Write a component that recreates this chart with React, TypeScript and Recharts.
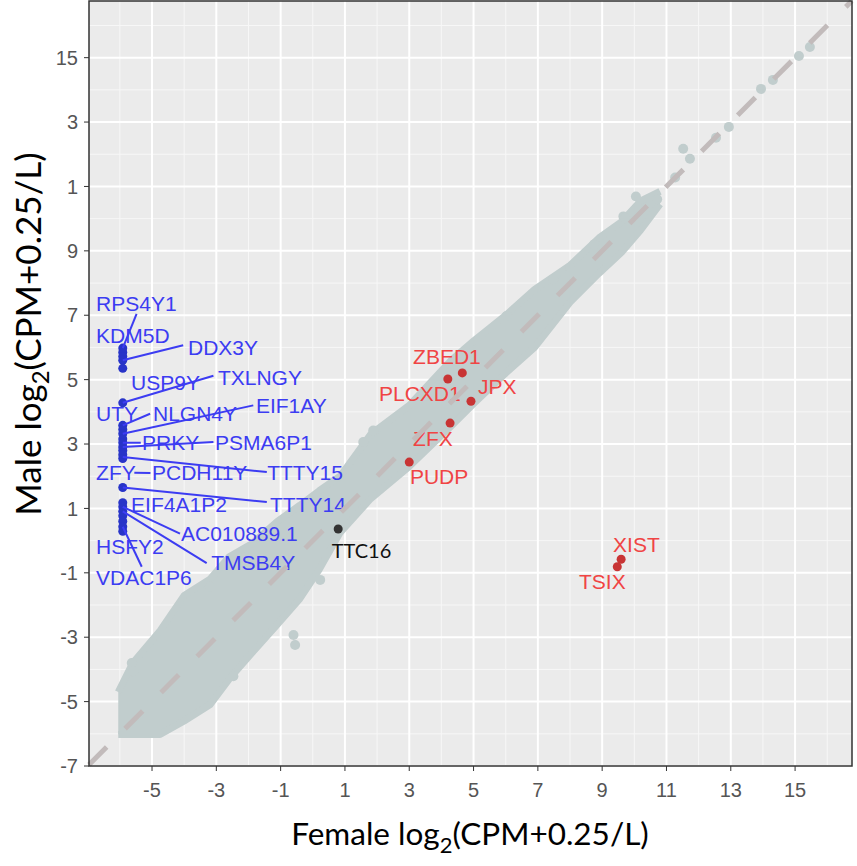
import {
  ComposedChart,
  Area,
  Scatter,
  XAxis,
  YAxis,
  CartesianGrid,
  ReferenceLine,
  ReferenceArea,
} from 'recharts';

const X_DOMAIN = [-6.96, 16.77];
const Y_DOMAIN = [-7, 16.76];

const xTicks = [-5, -3, -1, 1, 3, 5, 7, 9, 11, 13, 15];
const yTicks = [-7, -5, -3, -1, 1, 3, 5, 7, 9, 11, 13, 15];
// top two y labels are cut off on the left in the original figure
const yTickText: Record<number, string> = {13: '3', 11: '1'};
const minorX = [-6, -4, -2, 0, 2, 4, 6, 8, 10, 12, 14, 16];
const minorY = [-6, -4, -2, 0, 2, 4, 6, 8, 10, 12, 14, 16];

// outline of the dense grey cloud of genes
const bandX = [-6.05, -5.6, -4.75, -4.0, -3.2, -2.6, -1.9, -1.1, -0.4, 0.2, 0.85, 1.8, 3.0, 4.3, 5.0, 6.0, 6.9, 8.0, 8.9, 9.6, 10.2, 10.8];
const bandLow = [-6.02, -6.02, -6.02, -5.6, -5.1, -4.3, -3.5, -2.6, -1.8, -0.9, 0.25, 1.3, 2.3, 3.55, 4.25, 5.2, 6.0, 7.4, 8.3, 8.95, 9.65, 10.45];
const bandHigh = [-4.7, -3.8, -2.8, -1.7, -1.2, -0.5, -0.1, 0.6, 1.1, 1.55, 2.0, 3.3, 4.2, 5.6, 6.2, 7.0, 7.8, 8.55, 9.4, 9.9, 10.55, 10.85];

// loose grey genes outside the dense part
const looseX = [-5.63, -5.58, -3.2, -2.47, -0.6, -0.55, 0.23, 1.88, 1.57, 6.03, 7.48, 8.0, 8.75, 9.66, 9.71, 10.05, 10.71, 11.27, 11.52, 11.73, 12.54, 12.94, 13.94, 14.31, 15.12, 15.46];
const looseY = [-3.8, -4.06, -1.42, -4.21, -2.93, -3.24, -1.22, 3.42, 3.06, 6.98, 8.12, 8.48, 9.2, 10.07, 10.01, 10.69, 10.6, 11.28, 12.17, 11.86, 12.51, 12.85, 14.03, 14.31, 15.05, 15.33];

// Y-linked genes (not expressed in females)
const yGeneX = -5.91;
const yGeneY = [5.98, 5.85, 5.72, 5.6, 5.35, 4.28, 3.58, 3.45, 3.32, 3.16, 3.04, 2.91, 2.8, 2.67, 2.55, 1.65, 1.18, 1.05, 0.91, 0.77, 0.6, 0.43, 0.29];

const yGeneNames = ['RPS4Y1', 'KDM5D', 'DDX3Y', 'USP9Y', 'TXLNGY', 'UTY', 'NLGN4Y', 'EIF1AY', 'PRKY', 'PSMA6P1', 'ZFY', 'PCDH11Y', 'TTTY15', 'EIF4A1P2', 'TTTY14', 'AC010889.1', 'HSFY2', 'TMSB4Y', 'VDAC1P6'];
const yLabelX = [-6.74, -6.74, -3.88, -5.65, -2.95, -6.74, -4.97, -1.77, -5.31, -3.04, -6.74, -5.0, -1.42, -5.65, -1.33, -4.1, -6.74, -3.16, -6.74];
const yLabelY = [7.37, 6.38, 6.01, 4.9, 5.07, 3.95, 3.95, 4.19, 3.04, 3.04, 2.11, 2.11, 2.11, 1.12, 1.12, 0.22, -0.18, -0.68, -1.14];

// repel segments: gene point -> label
const segFrom = [[-5.91, 5.98], [-5.91, 5.6], [-5.91, 4.28], [-5.91, 3.58], [-5.91, 3.32], [-5.91, 3.04], [-5.91, 2.91], [-5.55, 2.11], [-5.91, 2.6], [-5.91, 1.65], [-5.91, 1.05], [-5.91, 0.91], [-5.91, 0.43]];
const segTo = [[-5.48, 7.04], [-4.03, 6.07], [-3.09, 5.12], [-5.06, 3.94], [-1.85, 4.2], [-5.35, 3.04], [-3.09, 3.06], [-5.05, 2.1], [-1.43, 2.13], [-1.43, 1.2], [-4.13, 0.22], [-3.3, -0.7], [-5.32, -0.81]];

// X-linked / escape genes
const redNames = ['ZBED1', 'PLCXD1', 'JPX', 'ZFX', 'PUDP', 'XIST', 'TSIX'];
const redX = [4.65, 4.2, 4.92, 4.27, 3.0, 9.59, 9.47];
const redY = [5.21, 5.02, 4.33, 3.65, 2.44, -0.58, -0.81];
const redLabelX = [3.12, 2.06, 5.14, 3.12, 3.02, 9.34, 8.28];
const redLabelY = [5.72, 4.57, 4.79, 3.16, 2.0, -0.13, -1.28];

const blackNames = ['TTC16'];
const blackX = [0.79];
const blackY = [0.36];
const blackLabelX = [0.59];
const blackLabelY = [-0.29];

const CLOUD = '#C1CDCD';
const BLUE_PT = '#2834C8';
const BLUE_TXT = '#3C3CF2';
const RED_PT = '#C83434';
const RED_TXT = '#F04444';
const LABEL_FONT = '"Liberation Sans", Arial, sans-serif';

const bandData = bandX.map((x, i) => ({x, range: [bandLow[i], bandHigh[i]]}));
const looseData = looseX.map((x, i) => ({x, y: looseY[i]}));
const yGeneData = yGeneY.map((y) => ({x: yGeneX, y}));
const yLabelData = yGeneNames.map((name, i) => ({name, x: yLabelX[i], y: yLabelY[i]}));
const redData = redX.map((x, i) => ({name: redNames[i], x, y: redY[i]}));
const redLabelData = redNames.map((name, i) => ({name, x: redLabelX[i], y: redLabelY[i]}));
const blackData = blackX.map((x, i) => ({name: blackNames[i], x, y: blackY[i]}));
const blackLabelData = blackNames.map((name, i) => ({name, x: blackLabelX[i], y: blackLabelY[i]}));

const dot = (r: number, fill: string) => (p: any) => <circle cx={p.cx} cy={p.cy} r={r} fill={fill} />;

const label = (fill: string, size: number, font: string) => (p: any) => (
  <text x={p.cx} y={p.cy} fill={fill} fontSize={size} fontFamily={font} dominantBaseline="central">
    {p.payload.name}
  </text>
);

const tickStyle = {fill: '#555555', fontSize: 20, fontFamily: LABEL_FONT};

export default function App() {
  return (
    <div style={{position: 'absolute', left: 0, top: 0, width: 857, height: 866, background: '#fff'}}>
      <ComposedChart width={857} height={866} margin={{top: 1, right: 5, bottom: 0, left: 0}}>
        <CartesianGrid
          fill="#EBEBEB"
          stroke="#F7F7F7"
          strokeWidth={1}
          verticalValues={minorX}
          horizontalValues={minorY}
        />
        <CartesianGrid stroke="#FFFFFF" strokeWidth={2} verticalValues={xTicks} horizontalValues={yTicks} />
        <XAxis
          type="number"
          dataKey="x"
          domain={X_DOMAIN}
          ticks={xTicks}
          allowDataOverflow
          height={100}
          axisLine={false}
          tickLine={{stroke: '#333333'}}
          tickSize={5}
          tickMargin={12}
          tick={tickStyle}
        />
        <YAxis
          type="number"
          dataKey="y"
          domain={Y_DOMAIN}
          ticks={yTicks}
          allowDataOverflow
          width={89}
          axisLine={false}
          tickLine={{stroke: '#333333'}}
          tickSize={5}
          tickMargin={6}
          tick={tickStyle}
          tickFormatter={(v: number) => yTickText[v] ?? String(v)}
        />
        <Area
          data={bandData}
          dataKey="range"
          type="linear"
          fill={CLOUD}
          fillOpacity={1}
          stroke={CLOUD}
          strokeWidth={7}
          strokeLinejoin="round"
          isAnimationActive={false}
          dot={false}
          activeDot={false}
        />
        <Scatter data={looseData} shape={dot(5, CLOUD)} isAnimationActive={false} />
        <Scatter data={yGeneData} shape={dot(4.5, BLUE_PT)} isAnimationActive={false} />
        <Scatter data={redData} shape={dot(4.5, RED_PT)} isAnimationActive={false} />
        <Scatter data={blackData} shape={dot(4.5, '#333333')} isAnimationActive={false} />
        <Scatter data={yLabelData} shape={label(BLUE_TXT, 21, LABEL_FONT)} isAnimationActive={false} />
        <Scatter data={redLabelData} shape={label(RED_TXT, 21, LABEL_FONT)} isAnimationActive={false} />
        <Scatter data={blackLabelData} shape={label('#111111', 20, 'Lato, sans-serif')} isAnimationActive={false} />
        {segFrom.map((f, i) => (
          <ReferenceLine
            key={`seg-${i}`}
            segment={[{x: f[0], y: f[1]}, {x: segTo[i][0], y: segTo[i][1]}]}
            stroke={BLUE_TXT}
            strokeWidth={2}
            ifOverflow="visible"
            zIndex={2500}
          />
        ))}
        {/* y = x reference, on top of the labels like in the figure */}
        <ReferenceLine
          segment={[{x: -6.96, y: -6.96}, {x: 16.76, y: 16.76}]}
          stroke="#C2BBBB"
          strokeWidth={5}
          strokeDasharray="25 26"
          ifOverflow="visible"
          zIndex={2600}
        />
        <ReferenceArea
          x1={X_DOMAIN[0]}
          x2={X_DOMAIN[1]}
          y1={Y_DOMAIN[0]}
          y2={Y_DOMAIN[1]}
          fill="none"
          stroke="#333333"
          strokeWidth={1.5}
          ifOverflow="visible"
          zIndex={2700}
        />
      </ComposedChart>
      <svg width={857} height={866} style={{position: 'absolute', left: 0, top: 0, pointerEvents: 'none'}}>
        <text x={470} y={845} textAnchor="middle" fontFamily="Lato, sans-serif" fontSize={31.5} fill="#000">
          Female log
          <tspan fontSize={22} dy={8}>2</tspan>
          <tspan dy={-8}>(CPM+0.25/L)</tspan>
        </text>
        <text
          transform="translate(41,334) rotate(-90)"
          textAnchor="middle"
          fontFamily="Lato, sans-serif"
          fontSize={35}
          fill="#000"
        >
          Male log
          <tspan fontSize={24} dy={8}>2</tspan>
          <tspan dy={-8}>(CPM+0.25/L)</tspan>
        </text>
      </svg>
    </div>
  );
}
